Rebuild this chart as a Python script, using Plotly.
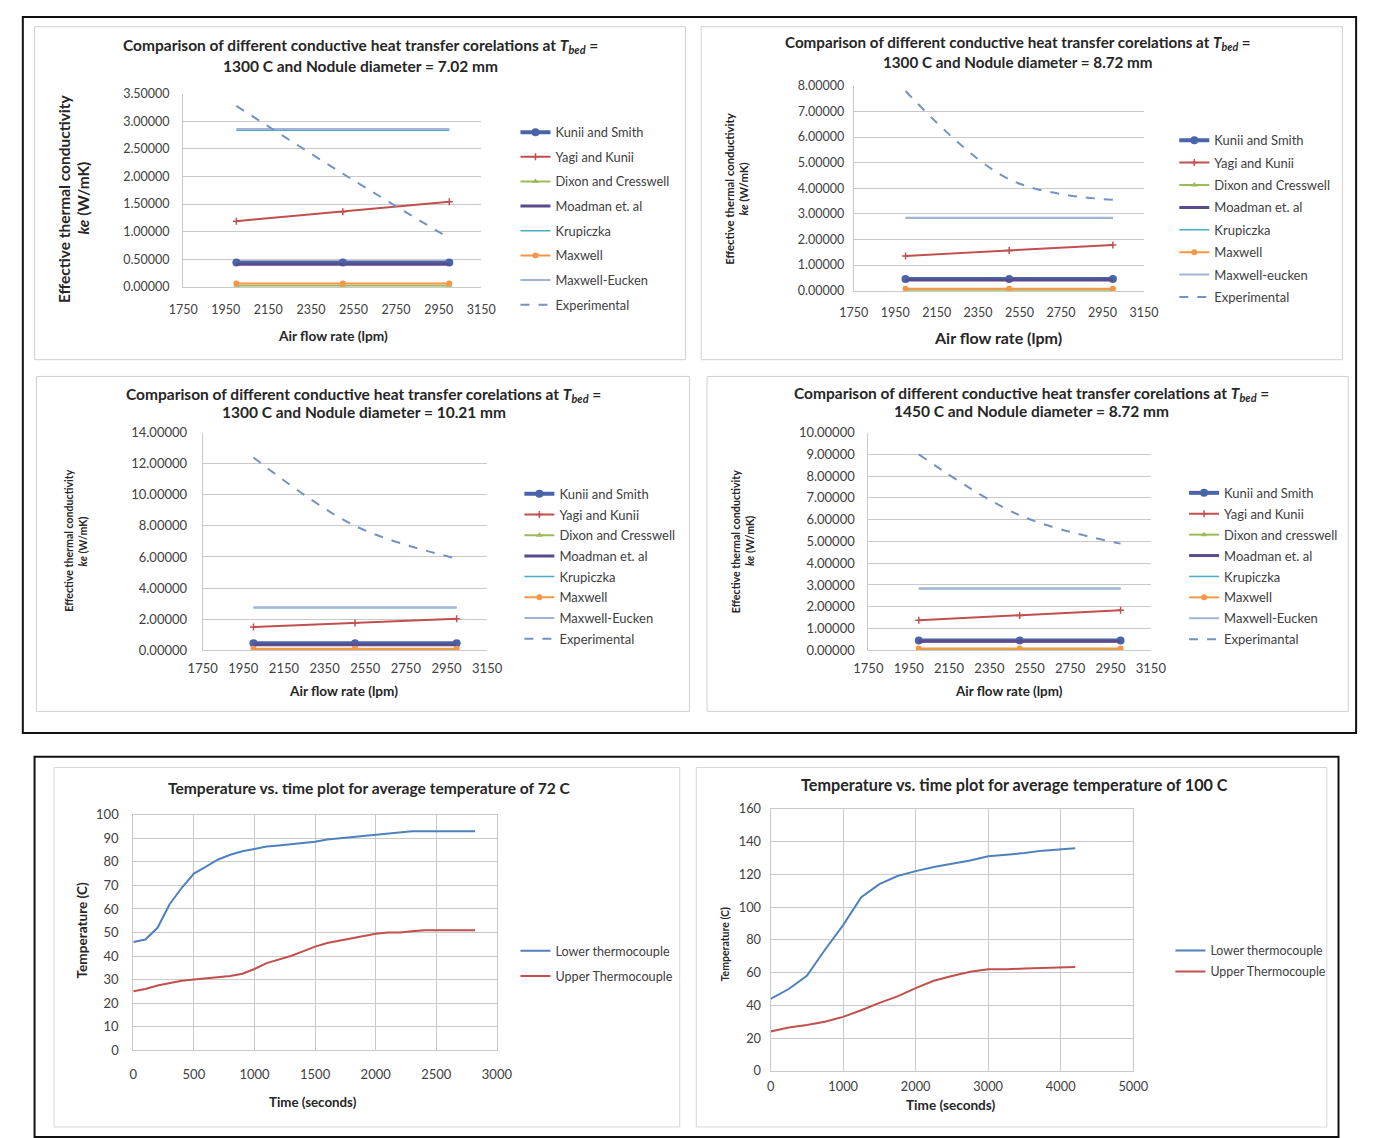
import plotly.graph_objects as go

W, H = 1377, 1138

# ---------------- data ----------------
flow = [2000, 2500, 3000]
series_names = ["Kunii and Smith", "Yagi and Kunii", "Dixon and Cresswell", "Moadman et. al",
                "Krupiczka", "Maxwell", "Maxwell-Eucken", "Experimental"]

# Chart 1: Tbed = 1300 C, d = 7.02 mm
kunii_1 = [0.44, 0.44, 0.44]
yagi_1 = [1.19, 1.36, 1.54]
dixon_1 = [0.02, 0.02, 0.02]
moad_1 = [0.41, 0.41, 0.41]
krup_1 = [2.84, 2.84, 2.84]
maxwell_1 = [0.06, 0.06, 0.06]
me_1 = [2.86, 2.86, 2.86]
exp_1 = [3.28, 2.05, 0.88]

# Chart 2: Tbed = 1300 C, d = 8.72 mm
kunii_2 = [0.46, 0.46, 0.46]
yagi_2 = [1.36, 1.57, 1.79]
dixon_2 = [0.02, 0.02, 0.02]
moad_2 = [0.42, 0.42, 0.42]
krup_2 = [2.84, 2.84, 2.84]
maxwell_2 = [0.08, 0.08, 0.08]
me_2 = [2.85, 2.85, 2.85]
exp_2 = [7.80, 4.35, 3.55]

# Chart 3: Tbed = 1300 C, d = 10.21 mm
kunii_3 = [0.45, 0.45, 0.45]
yagi_3 = [1.50, 1.75, 2.02]
dixon_3 = [0.02, 0.02, 0.02]
moad_3 = [0.36, 0.36, 0.36]
krup_3 = [2.74, 2.74, 2.74]
maxwell_3 = [0.10, 0.10, 0.10]
me_3 = [2.76, 2.76, 2.76]
exp_3 = [12.40, 8.00, 5.90]

# Chart 4: Tbed = 1450 C, d = 8.72 mm
kunii_4 = [0.45, 0.45, 0.45]
yagi_4 = [1.38, 1.60, 1.84]
dixon_4 = [0.02, 0.02, 0.02]
moad_4 = [0.42, 0.42, 0.42]
krup_4 = [2.83, 2.83, 2.83]
maxwell_4 = [0.08, 0.08, 0.08]
me_4 = [2.85, 2.85, 2.85]
exp_4 = [9.00, 6.20, 4.90]

# Chart 5: average temperature 72 C
time_72 = [0, 100, 200, 300, 400, 500, 600, 700, 800, 900, 1000, 1100, 1200, 1300, 1400,
           1500, 1600, 1700, 1800, 1900, 2000, 2100, 2200, 2300, 2400, 2500, 2600, 2700, 2820]
lower_72 = [46, 47, 52, 62, 69, 75, 78, 81, 83, 84.5, 85.5, 86.5, 87, 87.5, 88, 88.5, 89.5,
            90, 90.5, 91, 91.5, 92, 92.5, 93, 93, 93, 93, 93, 93]
upper_72 = [25, 26, 27.5, 28.5, 29.5, 30, 30.5, 31, 31.5, 32.5, 34.5, 37, 38.5, 40, 42, 44,
            45.5, 46.5, 47.5, 48.5, 49.5, 50, 50, 50.5, 51, 51, 51, 51, 51]

# Chart 6: average temperature 100 C
time_100 = [0, 250, 500, 750, 1000, 1250, 1500, 1750, 2000, 2250, 2500, 2750, 3000, 3250,
            3500, 3750, 4000, 4200]
lower_100 = [44, 50, 58, 74, 89, 106, 114, 119, 122, 124.5, 126.5, 128.5, 131, 132, 133,
             134.5, 135.5, 136]
upper_100 = [24, 26.5, 28, 30, 33, 37, 41.5, 45.5, 50.5, 55, 58, 60.5, 62, 62, 62.5, 63,
             63.5, 63.5]

temp_names_a = ["Lower thermocouple", "Upper Thermocouple"]

# ---------------- helpers ----------------
def fx(x):
    return x / W

def fy(y):
    return 1 - y / H

FONT = "Lato, 'Open Sans', sans-serif"
TXT = "#404040"
GRID = "#C9C9C9"

fig = go.Figure()

colors = ["#4A64AA", "#C0504D", "#9BBB59", "#5A4B8C", "#4BACC6", "#F79646", "#A3B3D6", "#7393C4"]

def add_corr(idx, vals, names):
    xa = "x" if idx == 1 else f"x{idx}"
    ya = "y" if idx == 1 else f"y{idx}"
    lg = "legend" if idx == 1 else f"legend{idx}"
    styles = [
        dict(mode="lines+markers", line=dict(color=colors[0], width=4), marker=dict(symbol="circle", size=8, color=colors[0])),
        dict(mode="lines+markers", line=dict(color=colors[1], width=2), marker=dict(symbol="cross-thin", size=5, line=dict(color=colors[1], width=1.5))),
        dict(mode="lines+markers", line=dict(color=colors[2], width=2), marker=dict(symbol="triangle-up", size=6, color=colors[2])),
        dict(mode="lines", line=dict(color=colors[3], width=3)),
        dict(mode="lines", line=dict(color=colors[4], width=1.5)),
        dict(mode="lines+markers", line=dict(color=colors[5], width=2), marker=dict(symbol="circle", size=6, color=colors[5])),
        dict(mode="lines", line=dict(color=colors[6], width=2)),
        dict(mode="lines", line=dict(color=colors[7], width=2, dash="dash", shape="spline")),
    ]
    for k, (v, nm, st) in enumerate(zip(vals, names, styles)):
        fig.add_trace(go.Scatter(x=flow, y=v, name=nm, xaxis=xa, yaxis=ya, legend=lg,
                                 legendgroup=f"g{idx}_{k}", **st))

def add_temp(idx, t, lo, up, names):
    xa = f"x{idx}"
    ya = f"y{idx}"
    lg = f"legend{idx}"
    fig.add_trace(go.Scatter(x=t, y=lo, name=names[0], mode="lines", xaxis=xa, yaxis=ya, legend=lg,
                             legendgroup=f"t{idx}a", line=dict(color="#4F81BD", width=2)))
    fig.add_trace(go.Scatter(x=t, y=up, name=names[1], mode="lines", xaxis=xa, yaxis=ya, legend=lg,
                             legendgroup=f"t{idx}b", line=dict(color="#C0504D", width=2)))

names1 = series_names
names2 = ["Kunii and Smith", "Yagi and Kunii", "Dixon and Cresswell", "Moadman et. al",
          "Krupiczka", "Maxwell", "Maxwell-eucken", "Experimental"]
names3 = series_names
names4 = ["Kunii and Smith", "Yagi and Kunii", "Dixon and cresswell", "Moadman et. al",
          "Krupiczka", "Maxwell", "Maxwell-Eucken", "Experimantal"]

add_corr(1, [kunii_1, yagi_1, dixon_1, moad_1, krup_1, maxwell_1, me_1, exp_1], names1)
add_corr(2, [kunii_2, yagi_2, dixon_2, moad_2, krup_2, maxwell_2, me_2, exp_2], names2)
add_corr(3, [kunii_3, yagi_3, dixon_3, moad_3, krup_3, maxwell_3, me_3, exp_3], names3)
add_corr(4, [kunii_4, yagi_4, dixon_4, moad_4, krup_4, maxwell_4, me_4, exp_4], names4)
add_temp(5, time_72, lower_72, upper_72, temp_names_a)
add_temp(6, time_100, lower_100, upper_100, temp_names_a)

# plot areas in pixels: (x0, x1, ytop, ybottom)
areas = {
    1: (172, 477, 86, 282),
    2: (858, 1155, 78, 286),
    3: (192, 483, 430, 651),
    4: (873, 1162, 430, 651),
    5: (121, 493, 818, 1057),
    6: (773, 1144, 812, 1078),
}
yranges = {1: (0, 3.5, 0.5), 2: (0, 8, 1), 3: (0, 14, 2), 4: (0, 10, 1), 5: (0, 100, 10), 6: (0, 160, 20)}
xranges = {1: (1750, 3150, 200), 2: (1750, 3150, 200), 3: (1750, 3150, 200), 4: (1750, 3150, 200),
           5: (0, 3000, 500), 6: (0, 5000, 1000)}
tick_sizes = {1: 12.5, 2: 12.5, 3: 13, 4: 13, 5: 13, 6: 12.8}
xstand = {1: 11, 2: 10, 3: 6, 4: 6, 5: 12, 6: 4}
ystand = {1: 10, 2: 6, 3: 12, 4: 10, 5: 11, 6: 6}

layout = dict(
    width=W, height=H, margin=dict(l=0, r=0, t=0, b=0),
    paper_bgcolor="white", plot_bgcolor="white",
    font=dict(family=FONT, color=TXT),
)

for i in range(1, 7):
    x0, x1, yt, yb = areas[i]
    xr = xranges[i]
    yr = yranges[i]
    xk = "xaxis" if i == 1 else f"xaxis{i}"
    yk = "yaxis" if i == 1 else f"yaxis{i}"
    temp = i >= 5
    layout[xk] = dict(
        domain=[fx(x0), fx(x1)], anchor="y" if i == 1 else f"y{i}",
        range=[xr[0], xr[1]], dtick=xr[2], tick0=xr[0], tickmode="linear",
        showgrid=temp, gridcolor=GRID, gridwidth=1, zeroline=False,
        showline=True, linecolor=GRID, linewidth=1, mirror=temp,
        ticks="", tickfont=dict(size=tick_sizes[i], color=TXT), ticklabelstandoff=xstand[i],
        fixedrange=True,
    )
    layout[yk] = dict(
        domain=[fy(yb), fy(yt)], anchor="x" if i == 1 else f"x{i}",
        range=[yr[0], yr[1]], dtick=yr[2], tick0=0, tickmode="linear",
        showgrid=True, gridcolor=GRID, gridwidth=1, zeroline=False,
        showline=True, linecolor=GRID, linewidth=1, mirror=temp,
        ticks="", tickfont=dict(size=tick_sizes[i], color=TXT), ticklabelstandoff=ystand[i],
        tickformat=".5f" if not temp else "d",
        fixedrange=True,
    )

# legends: (x, top y, font size, group gap)
leg_pos = {1: (512, 110, 12.8, 5), 2: (1186, 118, 13, 2.5), 3: (516, 477, 13, 0.8),
           4: (1196, 476, 13, 1), 5: (512, 941, 12.6, 6), 6: (1182, 941, 12.4, 2)}
for i, (lx, ly, fs, gap) in leg_pos.items():
    key = "legend" if i == 1 else f"legend{i}"
    layout[key] = dict(x=fx(lx), y=fy(ly), xanchor="left", yanchor="top",
                       bgcolor="rgba(0,0,0,0)", borderwidth=0,
                       font=dict(size=fs, color=TXT, family=FONT),
                       traceorder="grouped", tracegroupgap=gap, itemwidth=30)

fig.update_layout(**layout)

# ---------------- annotations ----------------
ann = []
def text(x, y, s, size, bold=True, angle=0, color="#262626"):
    ann.append(dict(x=fx(x), y=fy(y), xref="paper", yref="paper", text=(f"<b>{s}</b>" if bold else s),
                    showarrow=False, font=dict(size=size, color=color, family=FONT),
                    textangle=angle, xanchor="center", yanchor="middle"))

tb = "<i>T<sub>bed</sub></i>"
text(353, 38, f"Comparison of different conductive heat transfer corelations at {tb} =", 15.5)
text(353, 58, "1300 C and Nodule diameter = 7.02 mm", 15.5)
text(1026, 35, f"Comparison of different conductive heat transfer corelations at {tb} =", 15.2)
text(1026, 54, "1300 C and Nodule diameter = 8.72 mm", 15.2)
text(357, 392, f"Comparison of different conductive heat transfer corelations at {tb} =", 15.5)
text(357, 409, "1300 C and Nodule diameter = 10.21 mm", 15.5)
text(1040, 391, f"Comparison of different conductive heat transfer corelations at {tb} =", 15.5)
text(1040, 408, "1450 C and Nodule diameter = 8.72 mm", 15.5)

# y titles
text(50, 192, "Effective thermal conductivity", 15.5, angle=-90)
text(70, 192, "<i>ke</i> (W/mK)", 15.5, angle=-90)
text(731, 183, "Effective thermal conductivity", 11.3, angle=-90)
text(745, 183, "<i>ke</i> (W/mK)", 11.3, angle=-90)
text(55, 540, "Effective thermal conductivity", 10.6, angle=-90)
text(69, 540, "<i>ke</i> (W/mK)", 10.6, angle=-90)
text(738, 540, "Effective thermal conductivity", 10.7, angle=-90)
text(752, 540, "<i>ke</i> (W/mK)", 10.7, angle=-90)

# x titles
text(325, 331, "Air flow rate (lpm)", 13.7)
text(1006, 333, "Air flow rate (lpm)", 16)
text(336, 692, "Air flow rate (lpm)", 13.6)
text(1017, 692, "Air flow rate (lpm)", 13.4)

# temperature charts
text(363, 791, "Temperature vs. time plot for average temperature of 72 C", 15.6)
text(1023, 787, "Temperature vs. time plot for average temperature of 100 C", 16.2)
text(305, 1110, "Time (seconds)", 13.3)
text(958, 1113, "Time (seconds)", 13.6)
text(69, 935, "Temperature (C)", 13.6, angle=-90)
text(726, 950, "Temperature (C)", 10.5, angle=-90)

fig.update_layout(annotations=ann)

# ---------------- frames ----------------
shapes = []
def rect(x0, y0, x1, y1, color, width):
    shapes.append(dict(type="rect", xref="paper", yref="paper", x0=fx(x0), x1=fx(x1),
                       y0=fy(y1), y1=fy(y0), line=dict(color=color, width=width),
                       fillcolor="rgba(0,0,0,0)", layer="below"))

rect(8, 8, 1372, 735, "#111111", 2)
rect(20, 18, 686, 356, "#D0D0D0", 1)
rect(702, 18, 1358, 356, "#D0D0D0", 1)
rect(22, 373, 690, 713, "#D0D0D0", 1)
rect(708, 373, 1364, 713, "#D0D0D0", 1)
rect(20, 759, 1354, 1145, "#111111", 2)
rect(40, 770, 680, 1135, "#D8D8D8", 1)
rect(697, 770, 1342, 1135, "#D8D8D8", 1)
fig.update_layout(shapes=shapes)

fig.write_html("out.html",
               post_script="document.body.style.margin='0';document.body.style.overflow='hidden';")
